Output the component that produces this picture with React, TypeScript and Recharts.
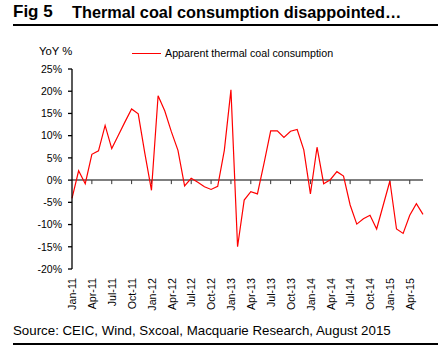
import React from 'react';
import { LineChart, Line, XAxis, YAxis, ReferenceLine } from 'recharts';

const months = [
  'Jan-11', 'Feb-11', 'Mar-11', 'Apr-11', 'May-11', 'Jun-11', 'Jul-11', 'Aug-11', 'Sep-11', 'Oct-11', 'Nov-11', 'Dec-11',
  'Jan-12', 'Feb-12', 'Mar-12', 'Apr-12', 'May-12', 'Jun-12', 'Jul-12', 'Aug-12', 'Sep-12', 'Oct-12', 'Nov-12', 'Dec-12',
  'Jan-13', 'Feb-13', 'Mar-13', 'Apr-13', 'May-13', 'Jun-13', 'Jul-13', 'Aug-13', 'Sep-13', 'Oct-13', 'Nov-13', 'Dec-13',
  'Jan-14', 'Feb-14', 'Mar-14', 'Apr-14', 'May-14', 'Jun-14', 'Jul-14', 'Aug-14', 'Sep-14', 'Oct-14', 'Nov-14', 'Dec-14',
  'Jan-15', 'Feb-15', 'Mar-15', 'Apr-15', 'May-15', 'Jun-15',
];

const consumption = [
  -4.1, 2.1, -0.8, 5.8, 6.6, 12.3, 7.1, 10.1, 13.1, 16.0, 14.9, 6.0,
  -2.3, 19.0, 15.6, 10.9, 6.7, -1.3, 0.4, -0.5, -1.5, -2.1, -1.4, 6.7,
  20.3, -15.0, -4.5, -2.6, -3.1, 3.8, 11.1, 11.1, 9.6, 11.0, 11.4, 6.8,
  -3.1, 7.4, -0.8, 0.1, 1.9, 0.9, -5.6, -9.9, -8.7, -7.9, -11.0, -5.6,
  -0.2, -11.0, -12.0, -7.9, -5.3, -7.7,
];

const yTicks = [-20, -15, -10, -5, 0, 5, 10, 15, 20, 25];
const quarterMonths = ['Apr-11', 'Jul-11', 'Oct-11', 'Jan-12', 'Apr-12', 'Jul-12', 'Oct-12', 'Jan-13', 'Apr-13', 'Jul-13', 'Oct-13', 'Jan-14', 'Apr-14', 'Jul-14', 'Oct-14', 'Jan-15', 'Apr-15'];

const title = 'Fig 5';
const subtitle = 'Thermal coal consumption disappointed…';
const seriesName = 'Apparent thermal coal consumption';
const yLabel = 'YoY %';
const source = 'Source: CEIC, Wind, Sxcoal, Macquarie Research, August 2015';

const data = months.map((m, i) => ({ month: m, value: consumption[i] }));

const FONT = '"Liberation Sans", Arial, Helvetica, sans-serif';

const XTick = (props: any) => {
  const { x, y, payload } = props;
  return (
    <text
      x={x}
      y={y}
      transform={`rotate(-90 ${x} ${y})`}
      textAnchor="end"
      dy="0.4em"
      fontSize={10.7}
      fill="#000"
      fontFamily={FONT}
    >
      {payload.value}
    </text>
  );
};

export default function App() {
  return (
    <div style={{ position: 'absolute', left: 0, top: 0, width: 438, height: 362, background: '#fff', fontFamily: FONT }}>
      <div style={{ position: 'absolute', left: 13, top: 2, fontSize: 17, fontWeight: 'bold', color: '#000', whiteSpace: 'nowrap' }}>{title}</div>
      <div style={{ position: 'absolute', left: 72, top: 2.8, fontSize: 16.3, fontWeight: 'bold', color: '#000', whiteSpace: 'nowrap' }}>{subtitle}</div>
      <div style={{ position: 'absolute', left: 13, top: 24, width: 425, height: 2, background: '#000' }} />
      <div style={{ position: 'absolute', left: 39, top: 45, fontSize: 11.3, color: '#000' }}>{yLabel}</div>
      <div style={{ position: 'absolute', left: 132, top: 53, width: 29, height: 1, background: '#ff0000' }} />
      <div style={{ position: 'absolute', left: 165, top: 47, fontSize: 10.7, color: '#000', whiteSpace: 'nowrap' }}>{seriesName}</div>
      <div style={{ position: 'absolute', left: 0, top: 0 }}>
        <LineChart width={438} height={362} data={data} margin={{ top: 69, right: 15, left: 12, bottom: 33 }}>
          <XAxis
            dataKey="month"
            height={60}
            axisLine={false}
            tickLine={false}
            tickSize={0}
            tickMargin={9}
            interval={2}
            tick={<XTick />}
          />
          <YAxis
            domain={[-20, 25]}
            ticks={yTicks}
            interval={0}
            width={60}
            tickSize={4}
            tickMargin={6}
            allowDataOverflow
            axisLine={{ stroke: '#000', strokeWidth: 1.3 }}
            tickLine={{ stroke: '#000', strokeWidth: 1.3 }}
            tick={{ fontSize: 10.5, fill: '#000', fontFamily: FONT }}
            tickFormatter={(v: number) => `${v}%`}
          />
          <ReferenceLine y={0} stroke="#555" strokeWidth={1.5} />
          {quarterMonths.map((m) => (
            <ReferenceLine key={m} segment={[{ x: m, y: 0 }, { x: m, y: -0.9 }]} stroke="#333" strokeWidth={1} />
          ))}
          <Line dataKey="value" type="linear" stroke="#ff0000" strokeWidth={1.2} dot={false} isAnimationActive={false} />
        </LineChart>
      </div>
      <div style={{ position: 'absolute', left: 13, top: 323, fontSize: 13.3, color: '#000', whiteSpace: 'nowrap' }}>{source}</div>
      <div style={{ position: 'absolute', left: 13, top: 343, width: 425, height: 2, background: '#000' }} />
    </div>
  );
}
